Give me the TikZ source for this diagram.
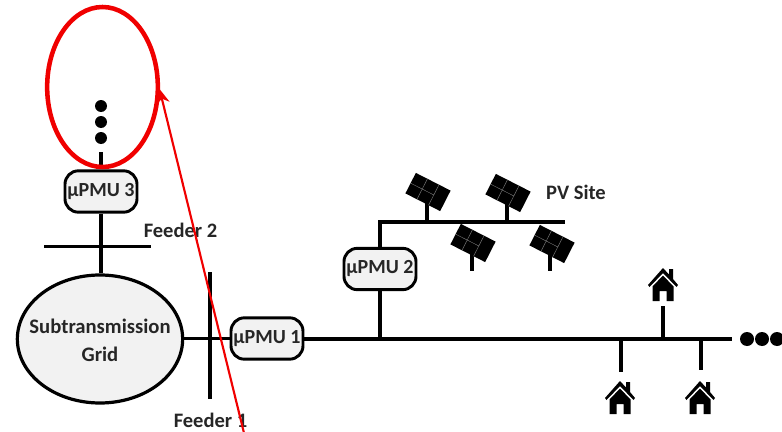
\documentclass[tikz,border=0pt]{standalone}
\usepackage{fontspec}
\setmainfont{Carlito}
\usetikzlibrary{shapes.geometric,arrows.meta}
\definecolor{boxfill}{HTML}{F2F2F2}
\definecolor{annot}{HTML}{F00000}
\tikzset{
  wire/.style={line width=2.4pt,black},
  bus/.style={line width=3pt,black},
  pmu/.style={draw=black,line width=2.2pt,fill=boxfill,rounded corners=10pt,minimum width=54pt,minimum height=31pt,inner sep=0pt,font=\bfseries\fontsize{15}{15}\selectfont,text=black!85},
  grid/.style={draw=black,line width=2.4pt,fill=boxfill,ellipse,minimum width=124pt,minimum height=96pt,inner sep=0pt},
  gridtext/.style={inner sep=0pt,align=center,font=\bfseries\fontsize{15.5}{21}\selectfont,text=black!85},
  lbl/.style={inner sep=0pt,font=\bfseries\fontsize{15.4}{15}\selectfont,text=black!85},
  dot/.style={circle,fill=black,inner sep=0pt,minimum size=9pt},
  house/.pic={
    \fill[black] (-15,17)--(0,0)--(6,6.5)--(6,1)--(10,1)--(10,11)--(15,17)--(13.5,19)--(0,5)--(-13.5,19)--cycle;
    \fill[black] (0,7.5)--(10.5,18.5)--(10.5,33)--(3.5,33)--(3.5,23)--(-3.5,23)--(-3.5,33)--(-10.5,33)--(-10.5,18.5)--cycle;
  },
  panel/.pic={
    \begin{scope}[rotate=-27]
      \fill[black] (-19.5,-11.5)rectangle(19.5,11.5);
      \draw[gray,line width=.3pt] (-6.5,-11.5)--(-6.5,11.5) (6.5,-11.5)--(6.5,11.5) (-19.5,0)--(6.5,0);
    \end{scope}
  }
}
\begin{document}
\begin{tikzpicture}[x=0.75pt,y=-0.75pt]
\useasboundingbox (0,0) rectangle (782,432);
% coordinates
\coordinate (f2l) at (44,246.5); \coordinate (f2r) at (151,246.5);
\coordinate (f1t) at (210,272); \coordinate (f1b) at (210,399);
\coordinate (top3) at (101,152);
\coordinate (mainend) at (732,338.5);
\coordinate (j2) at (380,338.5);
\coordinate (pvc) at (380,222); \coordinate (pve) at (565,222);
\coordinate (jh1) at (621,338.5); \coordinate (jh2) at (663,338.5); \coordinate (jh3) at (701,338.5);
\coordinate (eh1) at (621,372); \coordinate (eh2) at (663,306); \coordinate (eh3) at (701,370);
\coordinate (p1a) at (427,200); \coordinate (p1b) at (427,222);
\coordinate (p2a) at (507,200); \coordinate (p2b) at (507,222);
\coordinate (p3a) at (472,252); \coordinate (p3b) at (472,271);
\coordinate (p4a) at (550,252); \coordinate (p4b) at (550,271);
\coordinate (redfrom) at (244,433); \coordinate (redto) at (159.5,89);
% nodes
\node[grid] (sub) at (100,339) {};
\node[gridtext] (subt) at (100,340) {Subtransmission\\Grid};
\node[pmu] (u1) at (267,338.5) {µPMU 1};
\node[pmu] (u2) at (380,269) {µPMU 2};
\node[pmu] (u3) at (101,191.5) {µPMU 3};
\node[lbl] (lf2) at (180.5,230) {Feeder 2};
\node[lbl] (lf1) at (210.5,420) {Feeder 1};
\node[lbl] (lpv) at (576,192) {PV Site};
\node[dot] (d1) at (101,106) {};
\node[dot] (d2) at (101,122) {};
\node[dot] (d3) at (101,138) {};
\node[dot,minimum width=9pt,minimum height=10.5pt] (e1) at (747,339) {};
\node[dot,minimum width=9pt,minimum height=10.5pt] (e2) at (762,339) {};
\node[dot,minimum width=9pt,minimum height=10.5pt] (e3) at (777,339) {};
% connectors
\draw[wire] (top3) -- (u3.north);
\draw[wire] (u3.south) -- (u3.south |- sub.north);
\draw[wire] (f2l) -- (f2r);
\draw[wire] (f1t) -- (f1b);
\draw[wire] (sub.east |- u1.west) -- (u1.west);
\draw[bus] (u1.east) -- (mainend);
\draw[wire] (j2) -- (u2.south);
\draw[wire] (u2.north) -- (pvc) -- (pve);
\draw[wire] (jh1) -- (eh1);
\draw[wire] (jh2) -- (eh2);
\draw[wire] (jh3) -- (eh3);
\draw[wire] (p1a) -- (p1b);
\draw[wire] (p2a) -- (p2b);
\draw[wire] (p3a) -- (p3b);
\draw[wire] (p4a) -- (p4b);
% icons
\pic at (428,192) {panel};
\pic at (508,193) {panel};
\pic at (473,243) {panel};
\pic at (552,244) {panel};
\pic at (663,268) {house};
\pic at (620,381) {house};
\pic at (700,381) {house};
% annotation
\node[draw=annot,line width=3.4pt,ellipse,minimum width=83pt,minimum height=120pt,inner sep=0pt] (ring) at (102.5,87) {};
\draw[annot,line width=1.6pt,-{Stealth[length=11pt,width=10pt]}] (redfrom) -- (redto);
\end{tikzpicture}
\end{document}
